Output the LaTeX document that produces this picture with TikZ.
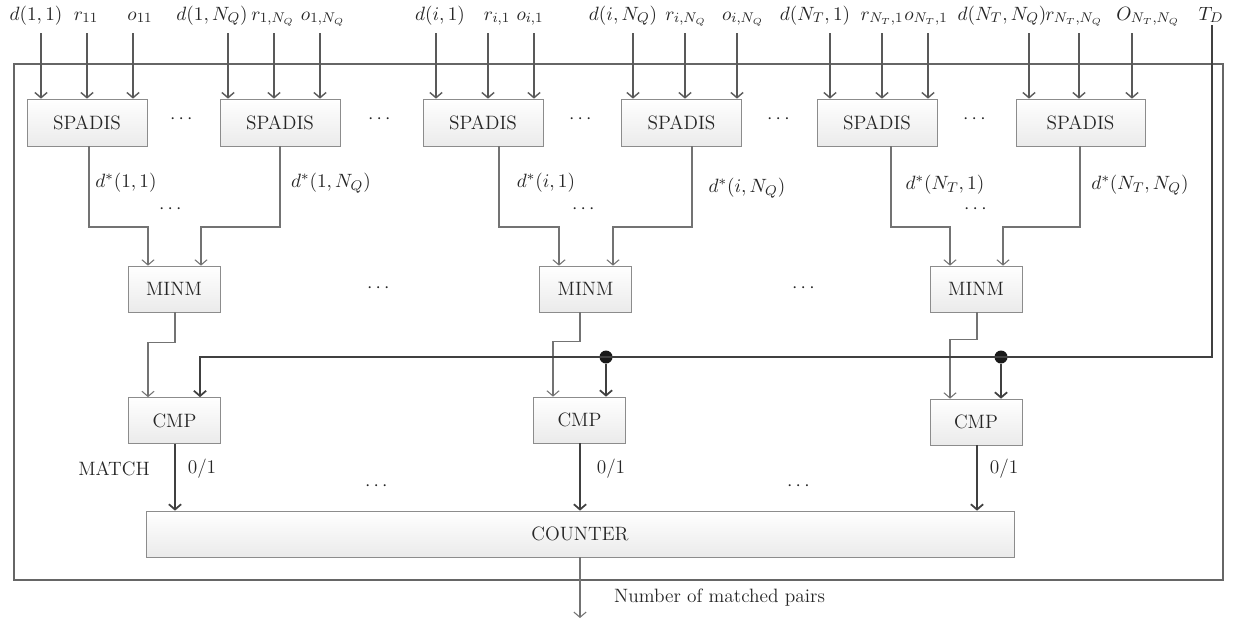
\documentclass[tikz,border=0pt]{standalone}
\usepackage{amsmath}
\usetikzlibrary{arrows.meta}
\tikzset{
	txt/.style={font=\fontsize{11}{13}\selectfont, text=black!85, inner sep=1pt},
	blk/.style={txt, draw=black!45, top color=white, bottom color=black!8, inner sep=0pt},
	spadis/.style={blk, minimum width=2.4cm, minimum height=0.94cm},
	unit/.style={blk, minimum width=1.84cm, minimum height=0.92cm},
	wire/.style={draw=black!55, line width=0.6pt},
	feed/.style={draw=black!65, line width=0.8pt},
	bus/.style={draw=black!75, line width=1pt},
	dot/.style={circle, fill=black!90, inner sep=0pt, minimum size=0.26cm},
	>={Straight Barb[length=3pt,width=7pt]}
}
\begin{document}
\begin{tikzpicture}[x=0.02cm, y=-0.02cm]
		\useasboundingbox (0,0) rectangle (1233,620);
		\draw[draw=black!60, line width=0.8pt] (14,64) rectangle (1223,580);
		\coordinate (top) at (0,33);

		\node[txt, anchor=base] (d11) at (36,20) {$d(1,1)$};
		\node[txt, anchor=base] (r11) at (86,20) {$r_{11}$};
		\node[txt, anchor=base] (o11) at (140,20) {$o_{11}$};
		\node[txt, anchor=base] (d1q) at (212,20) {$d(1,N_Q)$};
		\node[txt, anchor=base] (r1q) at (273,20) {$r_{1,N_Q}$};
		\node[txt, anchor=base] (o1q) at (323,20) {$o_{1,N_Q}$};
		\node[txt, anchor=base] (di1) at (440,20) {$d(i,1)$};
		\node[txt, anchor=base] (ri1) at (497,20) {$r_{i,1}$};
		\node[txt, anchor=base] (oi1) at (530,20) {$o_{i,1}$};
		\node[txt, anchor=base] (diq) at (623,20) {$d(i,N_Q)$};
		\node[txt, anchor=base] (riq) at (686,20) {$r_{i,N_Q}$};
		\node[txt, anchor=base] (oiq) at (743,20) {$o_{i,N_Q}$};
		\node[txt, anchor=base] (dt1) at (815,20) {$d(N_T,1)$};
		\node[txt, anchor=base] (rt1) at (882,20) {$r_{N_T,1}$};
		\node[txt, anchor=base] (ot1) at (926,20) {$o_{N_T,1}$};
		\node[txt, anchor=base] (dtq) at (1002,20) {$d(N_T,N_Q)$};
		\node[txt, anchor=base] (rtq) at (1074,20) {$r_{N_T,N_Q}$};
		\node[txt, anchor=base] (otq) at (1148,20) {$O_{N_T,N_Q}$};
		\node[txt, anchor=base] (tD) at (1211,20) {$T_D$};

		\node[spadis] (s1) at (87,122.5) {SPADIS};
		\node[spadis] (s2) at (280,122.5) {SPADIS};
		\node[spadis] (s3) at (483,122.5) {SPADIS};
		\node[spadis] (s4) at (681.5,122.5) {SPADIS};
		\node[spadis] (s5) at (877,122.5) {SPADIS};
		\node[spadis, minimum width=2.58cm] (s6) at (1080.5,122.5) {SPADIS};

		\node[txt] (dots1) at (183,119) {$\cdots$};
		\node[txt] (dots2) at (381,119) {$\cdots$};
		\node[txt] (dots3) at (582,119) {$\cdots$};
		\node[txt] (dots4) at (780,119) {$\cdots$};
		\node[txt] (dots5) at (976,119) {$\cdots$};

		\draw[feed,->] (top -| 41,0) -- (s1.north -| 41,0);
		\draw[feed,->] (top -| 87,0) -- (s1.north -| 87,0);
		\draw[feed,->] (top -| 133,0) -- (s1.north -| 133,0);
		\draw[feed,->] (top -| 228,0) -- (s2.north -| 228,0);
		\draw[feed,->] (top -| 274,0) -- (s2.north -| 274,0);
		\draw[feed,->] (top -| 320,0) -- (s2.north -| 320,0);
		\draw[feed,->] (top -| 436,0) -- (s3.north -| 436,0);
		\draw[feed,->] (top -| 488,0) -- (s3.north -| 488,0);
		\draw[feed,->] (top -| 534,0) -- (s3.north -| 534,0);
		\draw[feed,->] (top -| 633,0) -- (s4.north -| 633,0);
		\draw[feed,->] (top -| 685,0) -- (s4.north -| 685,0);
		\draw[feed,->] (top -| 737,0) -- (s4.north -| 737,0);
		\draw[feed,->] (top -| 830,0) -- (s5.north -| 830,0);
		\draw[feed,->] (top -| 882,0) -- (s5.north -| 882,0);
		\draw[feed,->] (top -| 928,0) -- (s5.north -| 928,0);
		\draw[feed,->] (top -| 1029,0) -- (s6.north -| 1029,0);
		\draw[feed,->] (top -| 1079,0) -- (s6.north -| 1079,0);
		\draw[feed,->] (top -| 1132,0) -- (s6.north -| 1132,0);

		\node[unit] (m1) at (174,289) {MINM};
		\node[unit] (m2) at (585.5,289) {MINM};
		\node[unit] (m3) at (976,289) {MINM};
		\node[txt] (dots6) at (380,288) {$\cdots$};
		\node[txt] (dots7) at (805,288) {$\cdots$};

		\draw[wire,->] (s1.south -| 89,0) |- (148,227) -- (m1.north -| 148,0);
		\draw[wire,->] (s2.south -| 280,0) |- (201,227) -- (m1.north -| 201,0);
		\draw[wire,->] (s3.south -| 499,0) |- (559,227) -- (m2.north -| 559,0);
		\draw[wire,->] (s4.south -| 692,0) |- (613,227) -- (m2.north -| 613,0);
		\draw[wire,->] (s5.south -| 891,0) |- (950,227) -- (m3.north -| 950,0);
		\draw[wire,->] (s6.south -| 1080,0) |- (1003,227) -- (m3.north -| 1003,0);

		\node[txt] (ds11) at (126,183) {$d^*(1,1)$};
		\node[txt] (ds1q) at (331,183) {$d^*(1,N_Q)$};
		\node[txt] (dsi1) at (546,183) {$d^*(i,1)$};
		\node[txt] (dsiq) at (747,188) {$d^*(i,N_Q)$};
		\node[txt] (dst1) at (945,185) {$d^*(N_T,1)$};
		\node[txt] (dstq) at (1140,185) {$d^*(N_T,N_Q)$};
		\node[txt] (dots8) at (172,209) {$\cdots$};
		\node[txt] (dots9) at (585,209) {$\cdots$};
		\node[txt] (dots10) at (977,209) {$\cdots$};

		\node[unit] (c1) at (174.5,420.5) {CMP};
		\node[unit] (c2) at (579.5,420) {CMP};
		\node[unit] (c3) at (976,422) {CMP};

		\draw[wire,->] (m1.south -| 175,0) -- ++(0,30) -| (c1.north -| 148,0);
		\draw[wire,->] (m2.south -| 580,0) -- ++(0,29) -| (c2.north -| 553,0);
		\draw[wire,->] (m3.south -| 977,0) -- ++(0,27) -| (c3.north -| 950,0);

		\node[dot] (j1) at (606,357) {};
		\node[dot] (j2) at (1001,357) {};
		\draw[bus,->] (tD.south -| 1212,0) |- (200,357) -- (c1.north -| 200,0);
		\draw[bus,->] (j1) -- (c2.north -| j1);
		\draw[bus,->] (j2) -- (c3.north -| j2);

		\node[blk, minimum width=17.36cm, minimum height=0.92cm] (cnt) at (580,534) {COUNTER};
		\draw[bus,->] (c1.south -| 175,0) -- (cnt.north -| 175,0);
		\draw[bus,->] (c2.south -| 580,0) -- (cnt.north -| 580,0);
		\draw[bus,->] (c3.south -| 977,0) -- (cnt.north -| 977,0);
		\node[txt] (match) at (114,469) {MATCH};
		\node[txt] (b1) at (202,469) {0/1};
		\node[txt] (b2) at (611,469) {0/1};
		\node[txt] (b3) at (1004,469) {0/1};
		\node[txt] (dots11) at (378,486) {$\cdots$};
		\node[txt] (dots12) at (800,486) {$\cdots$};

		\coordinate (out) at (580,618);
		\draw[wire,->] (cnt.south) -- (out);
		\node[txt, anchor=west] (res) at (612,598) {Number of matched pairs};
\end{tikzpicture}
\end{document}
